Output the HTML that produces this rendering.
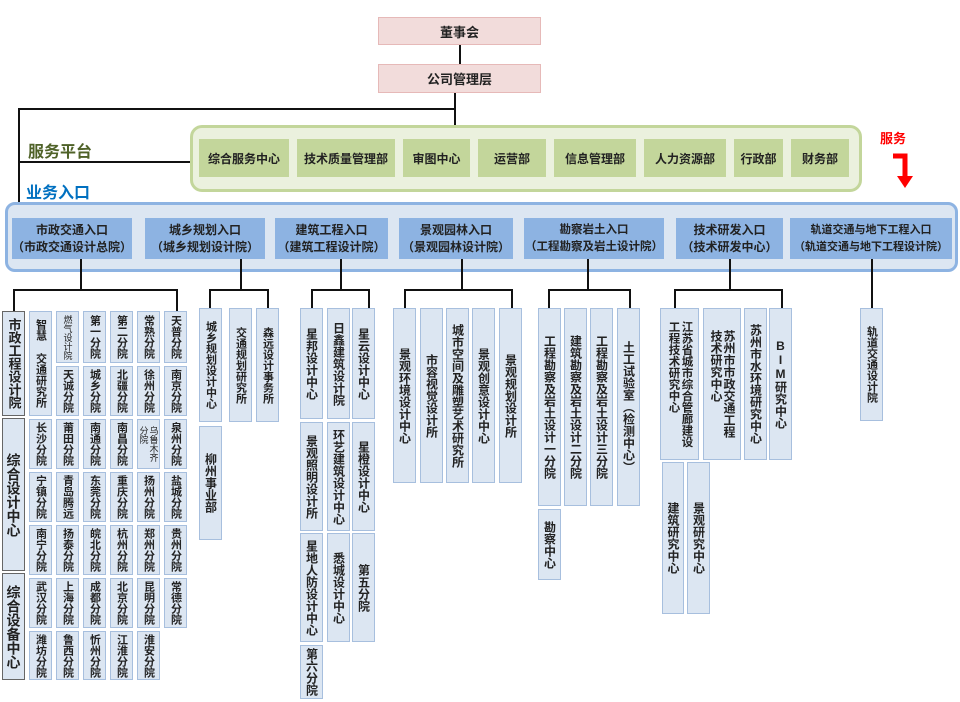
<!DOCTYPE html>
<html><head><meta charset="utf-8">
<style>
*{margin:0;padding:0;box-sizing:border-box}
body{width:960px;height:702px;background:#fff;position:relative;overflow:hidden;font-family:"Liberation Sans","Noto Sans CJK SC",sans-serif;font-weight:bold;color:#222}
div{position:absolute}
.ln{background:#111}
.top{background:#f2dcdb;border:1px solid #e6b9b8;display:flex;align-items:center;justify-content:center;font-size:13px}
.g{background:#c3d69b;display:flex;align-items:center;justify-content:center;font-size:12px;white-space:nowrap}
.b{background:#8db3e2;display:flex;flex-direction:column;align-items:center;justify-content:center;font-size:12px;line-height:17px;white-space:nowrap}
.v{background:#dce6f2;border:1px solid #a7bfde;display:flex;align-items:center;justify-content:center;writing-mode:vertical-rl;text-orientation:upright;font-size:12px;line-height:14px;white-space:nowrap}
.sm{font-size:11px}
.s{font-size:9px;font-weight:normal;line-height:10px}
.k{border:1.5px solid #666}
</style></head><body>
<div class="top" style="left:378px;top:17px;width:163px;height:28px">董事会</div>
<div class="ln" style="left:459px;top:45px;width:2px;height:19px"></div>
<div class="top" style="left:378px;top:64px;width:163px;height:29px">公司管理层</div>
<div class="ln" style="left:454px;top:93px;width:1.5px;height:32px"></div>
<div class="ln" style="left:18px;top:108px;width:437px;height:1.5px"></div>
<div class="ln" style="left:18px;top:108px;width:1.5px;height:96px"></div>
<div class="ln" style="left:18px;top:161px;width:172px;height:1.5px"></div>
<div style="left:28px;top:138px;font-size:16px;color:#4f6228">服务平台</div>
<div style="left:26px;top:179px;font-size:16px;color:#0070c0">业务入口</div>
<div style="left:190px;top:125px;width:672px;height:67px;border:3px solid #c3d69b;background:#ebf1de;border-radius:12px"></div>
<div class="g" style="left:199px;top:139px;width:90px;height:38px">综合服务中心</div>
<div class="g" style="left:297px;top:139px;width:98px;height:38px">技术质量管理部</div>
<div class="g" style="left:403px;top:139px;width:67px;height:38px">审图中心</div>
<div class="g" style="left:478px;top:139px;width:68px;height:38px">运营部</div>
<div class="g" style="left:554px;top:139px;width:82px;height:38px">信息管理部</div>
<div class="g" style="left:644px;top:139px;width:82px;height:38px">人力资源部</div>
<div class="g" style="left:734px;top:139px;width:49px;height:38px">行政部</div>
<div class="g" style="left:791px;top:139px;width:58px;height:38px">财务部</div>
<div style="left:880px;top:128px;font-size:13px;color:#ff0000">服务</div>
<svg style="position:absolute;left:890px;top:150px" width="30" height="42"><path d="M3 6 H15 V28" stroke="#ff0000" stroke-width="5" fill="none"/><path d="M7 26 H23 L15 38 Z" fill="#ff0000"/></svg>
<div style="left:5px;top:202px;width:953px;height:70px;border:3px solid #8db3e2;background:#dce6f2;border-radius:10px"></div>
<div class="b" style="left:12px;top:218px;width:120px;height:41px"><span>市政交通入口</span><span>（市政交通设计总院）</span></div>
<div class="b" style="left:145px;top:218px;width:120px;height:41px"><span>城乡规划入口</span><span>（城乡规划设计院）</span></div>
<div class="b" style="left:275px;top:218px;width:113px;height:41px"><span>建筑工程入口</span><span>（建筑工程设计院）</span></div>
<div class="b" style="left:399px;top:218px;width:114px;height:41px"><span>景观园林入口</span><span>（景观园林设计院）</span></div>
<div class="b" style="left:524px;top:218px;width:140px;height:41px;font-size:11.5px"><span>勘察岩土入口</span><span>（工程勘察及岩土设计院）</span></div>
<div class="b" style="left:676px;top:218px;width:107px;height:41px"><span>技术研发入口</span><span>（技术研发中心）</span></div>
<div class="b" style="left:790px;top:218px;width:162px;height:41px;font-size:11px"><span>轨道交通与地下工程入口</span><span>（轨道交通与地下工程设计院）</span></div>
<div class="ln" style="left:80px;top:259px;width:1.5px;height:31px"></div>
<div class="ln" style="left:13px;top:289px;width:164px;height:1.5px"></div>
<div class="ln" style="left:13px;top:289px;width:1.5px;height:22px"></div>
<div class="ln" style="left:176px;top:289px;width:1.5px;height:22px"></div>
<div class="ln" style="left:240px;top:259px;width:1.5px;height:31px"></div>
<div class="ln" style="left:209px;top:289px;width:59px;height:1.5px"></div>
<div class="ln" style="left:209px;top:289px;width:1.5px;height:19px"></div>
<div class="ln" style="left:267px;top:289px;width:1.5px;height:19px"></div>
<div class="ln" style="left:340px;top:259px;width:1.5px;height:31px"></div>
<div class="ln" style="left:311px;top:289px;width:58px;height:1.5px"></div>
<div class="ln" style="left:311px;top:289px;width:1.5px;height:19px"></div>
<div class="ln" style="left:368px;top:289px;width:1.5px;height:19px"></div>
<div class="ln" style="left:461px;top:259px;width:1.5px;height:31px"></div>
<div class="ln" style="left:404px;top:289px;width:108px;height:1.5px"></div>
<div class="ln" style="left:404px;top:289px;width:1.5px;height:19px"></div>
<div class="ln" style="left:511px;top:289px;width:1.5px;height:19px"></div>
<div class="ln" style="left:587px;top:259px;width:1.5px;height:31px"></div>
<div class="ln" style="left:548px;top:289px;width:82px;height:1.5px"></div>
<div class="ln" style="left:548px;top:289px;width:1.5px;height:19px"></div>
<div class="ln" style="left:629px;top:289px;width:1.5px;height:19px"></div>
<div class="ln" style="left:729px;top:259px;width:1.5px;height:31px"></div>
<div class="ln" style="left:674px;top:289px;width:108px;height:1.5px"></div>
<div class="ln" style="left:674px;top:289px;width:1.5px;height:19px"></div>
<div class="ln" style="left:781px;top:289px;width:1.5px;height:19px"></div>
<div class="ln" style="left:871px;top:259px;width:1.5px;height:49px"></div>
<!-- group 1 -->
<div class="v k" style="left:2px;top:311px;width:23px;height:105px;font-size:13px;line-height:16px">市政工程设计院</div>
<div class="v k" style="left:2px;top:418px;width:23px;height:153px;font-size:14px;line-height:16px">综合设计中心</div>
<div class="v k" style="left:2px;top:573px;width:23px;height:107px;font-size:14px;line-height:16px">综合设备中心</div>
<div class="v sm" style="left:29px;top:311px;width:23px;height:105px">智慧 交通研究所</div>
<div class="v s" style="left:56px;top:311px;width:23px;height:52px">燃气设计院</div>
<div class="v sm" style="left:83px;top:311px;width:23px;height:52px">第一分院</div>
<div class="v sm" style="left:110px;top:311px;width:23px;height:52px">第二分院</div>
<div class="v sm" style="left:137px;top:311px;width:23px;height:52px">常熟分院</div>
<div class="v sm" style="left:164px;top:311px;width:23px;height:52px">天普分院</div>
<div class="v sm" style="left:56px;top:366px;width:23px;height:50px">天诚分院</div>
<div class="v sm" style="left:83px;top:366px;width:23px;height:50px">城乡分院</div>
<div class="v sm" style="left:110px;top:366px;width:23px;height:50px">北疆分院</div>
<div class="v sm" style="left:137px;top:366px;width:23px;height:50px">徐州分院</div>
<div class="v sm" style="left:164px;top:366px;width:23px;height:50px">南京分院</div>
<div class="v sm" style="left:29px;top:419px;width:23px;height:50px">长沙分院</div>
<div class="v sm" style="left:56px;top:419px;width:23px;height:50px">莆田分院</div>
<div class="v sm" style="left:83px;top:419px;width:23px;height:50px">南通分院</div>
<div class="v sm" style="left:110px;top:419px;width:23px;height:50px">南昌分院</div>
<div class="v s" style="left:137px;top:419px;width:23px;height:50px">乌鲁木齐<br>分院</div>
<div class="v sm" style="left:164px;top:419px;width:23px;height:50px">泉州分院</div>
<div class="v sm" style="left:29px;top:472px;width:23px;height:50px">宁镇分院</div>
<div class="v sm" style="left:56px;top:472px;width:23px;height:50px">青岛腾远</div>
<div class="v sm" style="left:83px;top:472px;width:23px;height:50px">东莞分院</div>
<div class="v sm" style="left:110px;top:472px;width:23px;height:50px">重庆分院</div>
<div class="v sm" style="left:137px;top:472px;width:23px;height:50px">扬州分院</div>
<div class="v sm" style="left:164px;top:472px;width:23px;height:50px">盐城分院</div>
<div class="v sm" style="left:29px;top:525px;width:23px;height:50px">南宁分院</div>
<div class="v sm" style="left:56px;top:525px;width:23px;height:50px">扬泰分院</div>
<div class="v sm" style="left:83px;top:525px;width:23px;height:50px">皖北分院</div>
<div class="v sm" style="left:110px;top:525px;width:23px;height:50px">杭州分院</div>
<div class="v sm" style="left:137px;top:525px;width:23px;height:50px">郑州分院</div>
<div class="v sm" style="left:164px;top:525px;width:23px;height:50px">贵州分院</div>
<div class="v sm" style="left:29px;top:578px;width:23px;height:50px">武汉分院</div>
<div class="v sm" style="left:56px;top:578px;width:23px;height:50px">上海分院</div>
<div class="v sm" style="left:83px;top:578px;width:23px;height:50px">成都分院</div>
<div class="v sm" style="left:110px;top:578px;width:23px;height:50px">北京分院</div>
<div class="v sm" style="left:137px;top:578px;width:23px;height:50px">昆明分院</div>
<div class="v sm" style="left:164px;top:578px;width:23px;height:50px">常德分院</div>
<div class="v sm" style="left:29px;top:631px;width:23px;height:49px">潍坊分院</div>
<div class="v sm" style="left:56px;top:631px;width:23px;height:49px">鲁西分院</div>
<div class="v sm" style="left:83px;top:631px;width:23px;height:49px">忻州分院</div>
<div class="v sm" style="left:110px;top:631px;width:23px;height:49px">江淮分院</div>
<div class="v sm" style="left:137px;top:631px;width:23px;height:49px">淮安分院</div>
<!-- group 2 -->
<div class="v sm" style="left:199px;top:308px;width:23px;height:114px;line-height:12px">城乡规划设计中心</div>
<div class="v sm" style="left:229px;top:308px;width:23px;height:114px;line-height:12px">交通规划研究所</div>
<div class="v sm" style="left:256px;top:308px;width:23px;height:114px;line-height:12px">森远设计事务所</div>
<div class="v" style="left:199px;top:426px;width:23px;height:114px">柳州事业部</div>
<!-- group 3 -->
<div class="v" style="left:300px;top:308px;width:23px;height:111px">星邦设计中心</div>
<div class="v" style="left:327px;top:308px;width:23px;height:111px">日鑫建筑设计院</div>
<div class="v" style="left:352px;top:308px;width:23px;height:111px">星云设计中心</div>
<div class="v" style="left:300px;top:422px;width:23px;height:109px">景观照明设计所</div>
<div class="v" style="left:327px;top:422px;width:23px;height:109px">环艺建筑设计中心</div>
<div class="v" style="left:352px;top:422px;width:23px;height:109px">星橙设计中心</div>
<div class="v" style="left:300px;top:533px;width:23px;height:109px">星地人防设计中心</div>
<div class="v" style="left:327px;top:533px;width:23px;height:109px">悉城设计中心</div>
<div class="v" style="left:352px;top:533px;width:23px;height:109px">第五分院</div>
<div class="v" style="left:300px;top:645px;width:23px;height:54px">第六分院</div>
<!-- group 4 -->
<div class="v" style="left:393px;top:308px;width:23px;height:175px">景观环境设计中心</div>
<div class="v" style="left:420px;top:308px;width:23px;height:175px">市容视觉设计所</div>
<div class="v" style="left:446px;top:308px;width:23px;height:175px">城市空间及雕塑艺术研究所</div>
<div class="v" style="left:472px;top:308px;width:23px;height:175px">景观创意设计中心</div>
<div class="v" style="left:499px;top:308px;width:23px;height:175px">景观规划设计所</div>
<!-- group 5 -->
<div class="v" style="left:538px;top:308px;width:23px;height:198px">工程勘察及岩土设计一分院</div>
<div class="v" style="left:564px;top:308px;width:23px;height:198px">建筑勘察及岩土设计二分院</div>
<div class="v" style="left:590px;top:308px;width:23px;height:198px">工程勘察及岩土设计三分院</div>
<div class="v" style="left:617px;top:308px;width:23px;height:198px">土工试验室（检测中心）</div>
<div class="v" style="left:538px;top:509px;width:23px;height:71px">勘察中心</div>
<!-- group 6 -->
<div class="v" style="left:660px;top:308px;width:39px;height:152px;line-height:13px;font-size:11.5px">江苏省城市综合管廊建设<br>工程技术研究中心</div>
<div class="v" style="left:703px;top:308px;width:38px;height:152px;line-height:13px">苏州市市政交通工程<br>技术研究中心</div>
<div class="v" style="left:744px;top:308px;width:23px;height:152px">苏州市水环境研究中心</div>
<div class="v" style="left:769px;top:308px;width:23px;height:152px">BIM研究中心</div>
<div class="v" style="left:662px;top:462px;width:22px;height:152px">建筑研究中心</div>
<div class="v" style="left:687px;top:462px;width:23px;height:152px">景观研究中心</div>
<!-- group 7 -->
<div class="v sm" style="left:860px;top:308px;width:23px;height:113px;line-height:12px">轨道交通设计院</div>
</body></html>
